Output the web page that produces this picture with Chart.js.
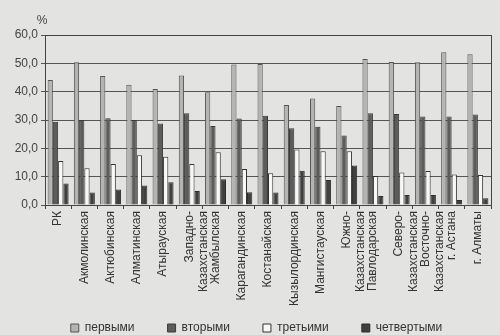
<!DOCTYPE html>
<html>
<head>
<meta charset="utf-8">
<script src="https://cdn.jsdelivr.net/npm/chart.js@4.4.1/dist/chart.umd.min.js"></script>
<style>
  html, body { margin: 0; padding: 0; background: #e3e3e1; }
  #wrap { width: 500px; height: 335px; }
</style>
</head>
<body>
<div id="wrap"><canvas id="regionsChart" width="500" height="335"></canvas></div>
<script>
// регионы
const regions = [
    'РК', 'Акмолинская', 'Актюбинская', 'Алматинская', 'Атырауская',
    ['Западно-', 'Казахстанская'], 'Жамбылская', 'Карагандинская', 'Костанайская',
    'Кызылординская', 'Мангистауская', ['Южно-', 'Казахстанская'], 'Павлодарская',
    ['Северо-', 'Казахстанская'], ['Восточно-', 'Казахстанская'], 'г. Астана', 'г. Алматы'
];

// доли, %
const first  = [44.1, 50.4, 45.5, 42.4, 40.9, 45.7, 39.8, 49.6, 49.8, 35.3, 37.6, 34.9, 51.5, 50.5, 50.4, 53.9, 53.2];
const second = [29.4, 30.0, 30.6, 30.0, 28.8, 32.4, 27.9, 30.5, 31.5, 27.1, 27.6, 24.5, 32.4, 32.1, 31.2, 31.2, 31.9];
const third  = [15.5, 13.0, 14.5, 17.6, 17.0, 14.5, 18.6, 12.7, 11.2, 19.6, 19.0, 19.0, 10.2, 11.5, 12.0, 10.8, 10.6];
const fourth = [7.6, 4.4, 5.5, 6.9, 8.0, 4.9, 9.1, 4.5, 4.4, 12.1, 8.8, 13.9, 3.2, 3.5, 3.5, 1.8, 2.4];

const yTicks = [0, 10, 20, 30, 40, 50, 60];

// рамка области построения и подпись "%"
const frame = {
    id: 'frame',
    afterLayout(chart) {
        // длинные подписи регионов не обрезаем по высоте оси
        chart.scales.x._computeLabelArea = () => undefined;
        // легенду чуть правее центра
        chart.legend.left += 10;
        chart.legend.right += 10;
    },
    afterDraw(chart) {
        const { ctx, chartArea } = chart;
        ctx.save();
        ctx.strokeStyle = '#444';
        ctx.lineWidth = 1;
        ctx.strokeRect(chartArea.left + 0.5, chartArea.top + 0.5,
            chartArea.right - chartArea.left, chartArea.bottom - chartArea.top);
        ctx.fillStyle = '#444';
        ctx.font = '12px "Liberation Sans", Arial, sans-serif';
        ctx.textAlign = 'center';
        ctx.fillText('%', chartArea.left - 3, chartArea.top - 14);
        ctx.restore();
    }
};

Chart.defaults.font.family = '"Liberation Sans", Arial, sans-serif';
Chart.defaults.color = '#333';

new Chart(document.getElementById('regionsChart'), {
    type: 'bar',
    data: {
        labels: regions,
        datasets: [
            { label: 'первыми', data: first, backgroundColor: '#b4b4b2', borderColor: '#555', borderWidth: 1 },
            { label: 'вторыми', data: second, backgroundColor: '#5c5c5c', borderColor: '#3a3a3a', borderWidth: 1 },
            { label: 'третьими', data: third, backgroundColor: '#f8f8f6', borderColor: '#333', borderWidth: 1 },
            { label: 'четвертыми', data: fourth, backgroundColor: '#404040', borderColor: '#2e2e2e', borderWidth: 1 }
        ]
    },
    options: {
        responsive: false,
        animation: false,
        datasets: { bar: { categoryPercentage: 0.8, barPercentage: 1.0 } },
        layout: { padding: { top: 35, right: 9, left: 2, bottom: 0 } },
        plugins: {
            legend: {
                position: 'bottom',
                maxHeight: 46,
                labels: { boxWidth: 8, boxHeight: 8, padding: 33, font: { size: 12 }, color: '#333' }
            },
            tooltip: { enabled: false }
        },
        scales: {
            x: {
                grid: { drawOnChartArea: false, tickLength: 4, color: '#444' },
                border: { color: '#444' },
                ticks: { autoSkip: false, minRotation: 90, maxRotation: 90, font: { size: 12 }, color: '#333', padding: 2 },
                afterFit(scale) { scale.height = 84; }
            },
            y: {
                min: 0,
                max: 60,
                afterBuildTicks(scale) { scale.ticks = yTicks.map(v => ({ value: v })); },
                grid: { color: '#555', tickLength: 4 },
                border: { color: '#444' },
                ticks: {
                    font: { size: 12 },
                    color: '#444',
                    callback: v => v.toFixed(1).replace('.', ',')
                },
                afterFit(scale) { scale.width = 43; }
            }
        }
    },
    plugins: [frame]
});
</script>
</body>
</html>
